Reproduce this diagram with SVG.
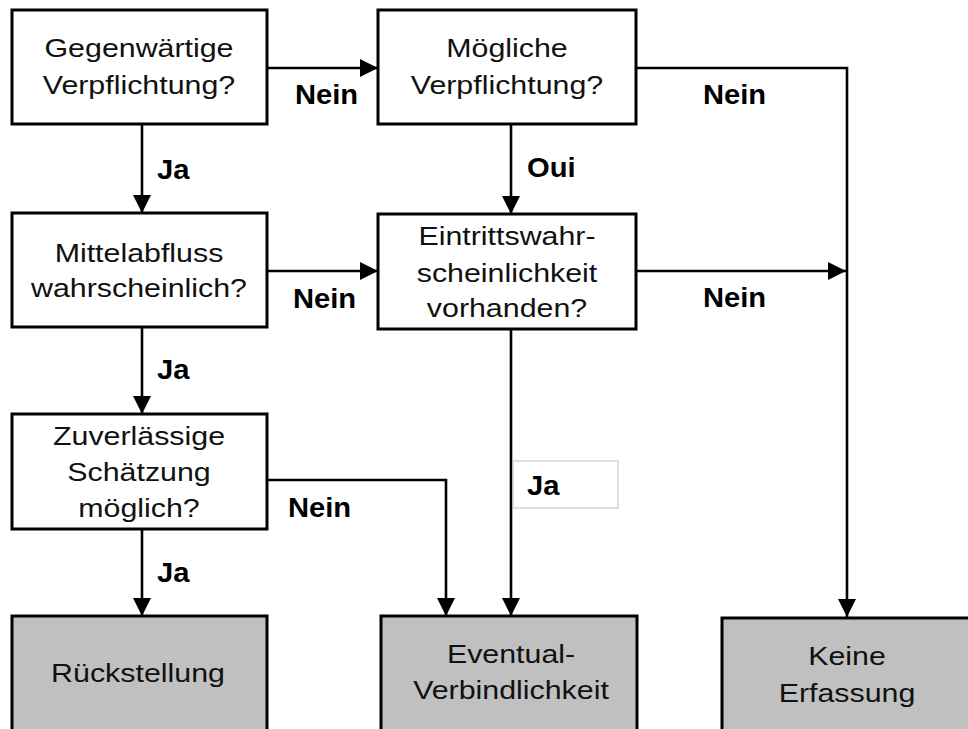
<svg xmlns="http://www.w3.org/2000/svg" width="968" height="729" viewBox="0 0 968 729">
<style>
.box{fill:#fff;stroke:#000;stroke-width:3}
.end{fill:#c0c0c0;stroke:#000;stroke-width:3}
.t{font-family:"Liberation Sans",Arial,sans-serif;font-size:25px;fill:#111;text-anchor:middle}
.l{font-family:"Liberation Sans",Arial,sans-serif;font-size:27px;font-weight:bold;fill:#000}
.c{fill:none;stroke:#000;stroke-width:2.6}
</style>
<defs>
<marker id="ah" markerUnits="userSpaceOnUse" markerWidth="18" markerHeight="18" refX="18" refY="9" orient="auto" viewBox="0 0 18 18">
<path d="M0,0 L18,9 L0,18 z" fill="#000"/>
</marker>
</defs>
<rect width="968" height="729" fill="#fff"/>
<g id="connectors">
<line class="c" x1="267" y1="68" x2="378" y2="68" marker-end="url(#ah)"/>
<polyline class="c" points="636,68 847,68 847,617" marker-end="url(#ah)"/>
<line class="c" x1="142" y1="124" x2="142" y2="213" marker-end="url(#ah)"/>
<line class="c" x1="511" y1="124" x2="511" y2="214" marker-end="url(#ah)"/>
<line class="c" x1="267" y1="271" x2="378" y2="271" marker-end="url(#ah)"/>
<line class="c" x1="636" y1="271" x2="846" y2="271" marker-end="url(#ah)"/>
<line class="c" x1="142" y1="327" x2="142" y2="414" marker-end="url(#ah)"/>
<line class="c" x1="511" y1="329" x2="511" y2="616" marker-end="url(#ah)"/>
<line class="c" x1="142" y1="529" x2="142" y2="616" marker-end="url(#ah)"/>
<polyline class="c" points="267,480 446,480 446,616" marker-end="url(#ah)"/>
<text class="l" transform="translate(295,104) scale(1.08,1)">Nein</text>
<text class="l" transform="translate(703,104) scale(1.08,1)">Nein</text>
<text class="l" transform="translate(157,179) scale(1.08,1)">Ja</text>
<text class="l" transform="translate(527,177) scale(1.08,1)">Oui</text>
<text class="l" transform="translate(293,308) scale(1.08,1)">Nein</text>
<text class="l" transform="translate(703,307) scale(1.08,1)">Nein</text>
<text class="l" transform="translate(157,379) scale(1.08,1)">Ja</text>
<text class="l" transform="translate(288,517) scale(1.08,1)">Nein</text>
<text class="l" transform="translate(157,582) scale(1.08,1)">Ja</text>
<g id="ja-label">
<rect x="513" y="461" width="105" height="47" fill="#fff" stroke="#c0c0c0" stroke-width="1"/>
<text class="l" transform="translate(527,495) scale(1.08,1)">Ja</text>
</g>
</g>
<g id="n1">
<rect class="box" x="12" y="10" width="255" height="114"/>
<text class="t" transform="translate(139,57) scale(1.215,1)"><tspan x="0" y="0">Gegenwärtige</tspan><tspan x="0" y="37">Verpflichtung?</tspan></text>
</g>
<g id="n2">
<rect class="box" x="378" y="10" width="258" height="114"/>
<text class="t" transform="translate(507,57) scale(1.215,1)"><tspan x="0" y="0">Mögliche</tspan><tspan x="0" y="37">Verpflichtung?</tspan></text>
</g>
<g id="n3">
<rect class="box" x="12" y="213" width="255" height="114"/>
<text class="t" transform="translate(139,262) scale(1.215,1)"><tspan x="0" y="0">Mittelabfluss</tspan><tspan x="0" y="35">wahrscheinlich?</tspan></text>
</g>
<g id="n4">
<rect class="box" x="378" y="214" width="258" height="115"/>
<text class="t" transform="translate(507,245) scale(1.215,1)"><tspan x="0" y="0">Eintrittswahr-</tspan><tspan x="0" y="37">scheinlichkeit</tspan><tspan x="0" y="72">vorhanden?</tspan></text>
</g>
<g id="n5">
<rect class="box" x="12" y="414" width="255" height="115"/>
<text class="t" transform="translate(139,445) scale(1.215,1)"><tspan x="0" y="0">Zuverlässige</tspan><tspan x="0" y="36">Schätzung</tspan><tspan x="0" y="72">möglich?</tspan></text>
</g>
<g id="n6">
<rect class="end" x="12" y="616" width="255" height="125"/>
<text class="t" transform="translate(138,682) scale(1.215,1)">Rückstellung</text>
</g>
<g id="n7">
<rect class="end" x="381" y="616" width="256" height="125"/>
<text class="t" transform="translate(511,663) scale(1.215,1)"><tspan x="0" y="0">Eventual-</tspan><tspan x="0" y="36">Verbindlichkeit</tspan></text>
</g>
<g id="n8">
<rect class="end" x="722" y="618" width="260" height="125"/>
<text class="t" transform="translate(847,665) scale(1.215,1)"><tspan x="0" y="0">Keine</tspan><tspan x="0" y="37">Erfassung</tspan></text>
</g>
</svg>
